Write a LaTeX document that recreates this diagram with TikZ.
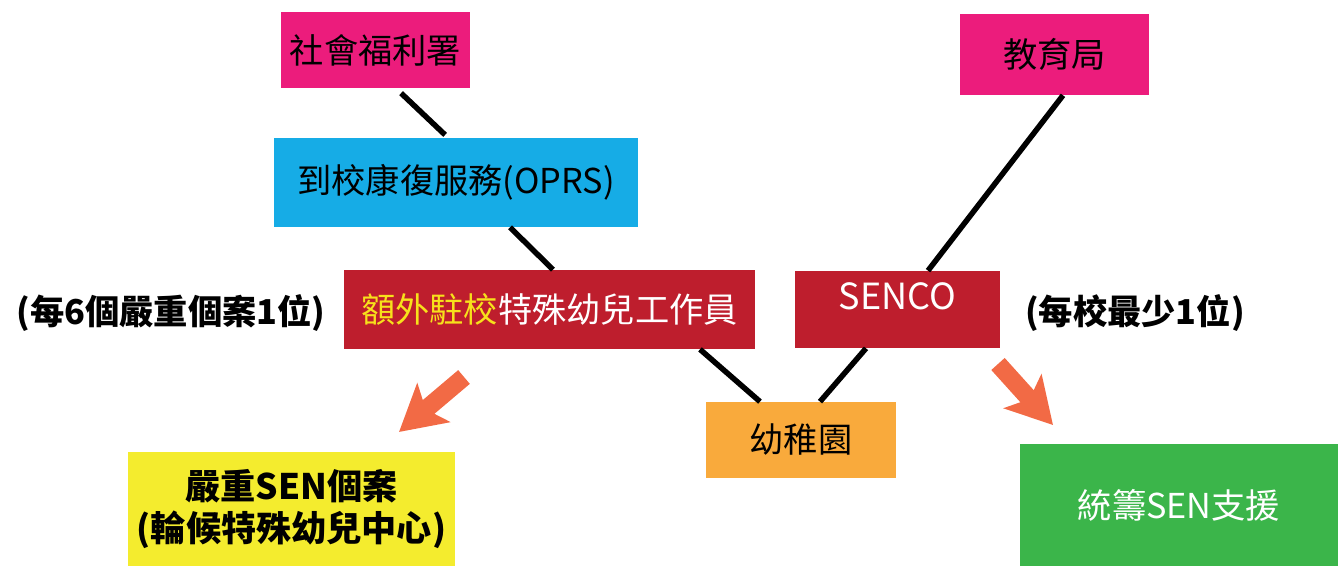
\documentclass[tikz,border=0pt]{standalone}
\usepackage{fontspec}
\setmainfont{Noto Sans CJK TC}
\usepackage{xcolor}
\usetikzlibrary{arrows.meta}
\usetikzlibrary{positioning}

\definecolor{swdpink}{HTML}{EC1C7C}
\definecolor{oprsblue}{HTML}{16ACE6}
\definecolor{workerred}{HTML}{BE1E2D}
\definecolor{kgorange}{HTML}{F9AA3C}
\definecolor{caseyellow}{HTML}{F4EC2E}
\definecolor{supportgreen}{HTML}{3BB54A}
\definecolor{arroworange}{HTML}{F26A45}
\definecolor{titleyellow}{HTML}{F7E11B}

\begin{document}
\begin{tikzpicture}[
        box/.style={inner sep=0pt, align=center, font=\fontsize{19.5}{24}\selectfont},
        link/.style={line width=0.11cm, black},
        bigarrow/.style={line width=0.36cm, arroworange, -{Stealth[length=0.9cm, width=1.0cm, inset=0.2cm]}},
        note/.style={font=\fontsize{19.5}{24}\selectfont\bfseries}
    ]
            \useasboundingbox (0, 0) rectangle (26.76, 11.32);

            \node[box, fill=swdpink, minimum width=3.78cm, minimum height=1.52cm](swd) at (7.51, 10.32){社會福利署};
            \node[box, fill=swdpink, minimum width=3.78cm, minimum height=1.62cm](edb) at (21.09, 10.23){教育局};
            \node[box, fill=oprsblue, minimum width=7.28cm, minimum height=1.78cm](oprs) at (9.12, 7.67){到校康復服務(OPRS)};
            \node[box, fill=workerred, text=white, minimum width=8.22cm, minimum height=1.58cm](worker) at (10.99, 5.13){\textcolor{titleyellow}{額外駐校}特殊幼兒工作員};
            \node[box, fill=workerred, text=white, font=\fontsize{20.5}{24}\selectfont, minimum width=4.10cm, minimum height=1.54cm, text height=0.6cm, text depth=0.6cm](senco) at (17.95, 5.13){SENCO};
            \node[box, fill=kgorange, minimum width=3.80cm, minimum height=1.52cm](kg) at (16.02, 2.52){幼稚園};

            \node[box, fill=caseyellow, font=\fontsize{20}{24}\selectfont\bfseries, minimum width=6.54cm, minimum height=2.28cm](severe) at (5.83, 1.14){嚴重SEN個案\\(輪候特殊幼兒中心)};
            \node[box, fill=supportgreen, text=white, minimum width=6.36cm, minimum height=2.44cm](support) at (23.58, 1.22){統籌SEN支援};

            \node[note](quota) at (3.42, 5.06){(每6個嚴重個案1位)};
            \node[note](sencoquota) at (22.70, 5.06){(每校最少1位)};

            \draw[link, shorten <=0.14cm, shorten >=0.08cm]([xshift=0.41cm]swd.south)--([xshift=-0.16cm]oprs.north);
            \draw[link]([xshift=1.08cm]oprs.south)--([xshift=0.07cm]worker.north);
            \draw[link]([xshift=3.01cm]worker.south)--([xshift=-0.82cm]kg.north);
            \draw[link]([xshift=-0.63cm]senco.south)--([xshift=0.38cm]kg.north);
            \draw[link]([xshift=0.17cm]edb.south)--([xshift=0.61cm]senco.north);

            % block arrows
            \coordinate(leftfrom) at (9.28, 3.78);
            \coordinate(leftto) at (7.98, 2.68);
            \coordinate(rightfrom) at (19.96, 4.04);
            \coordinate(rightto) at (21.06, 2.82);
            \draw[bigarrow](leftfrom)--(leftto);
            \draw[bigarrow](rightfrom)--(rightto);
\end{tikzpicture}
\end{document}
